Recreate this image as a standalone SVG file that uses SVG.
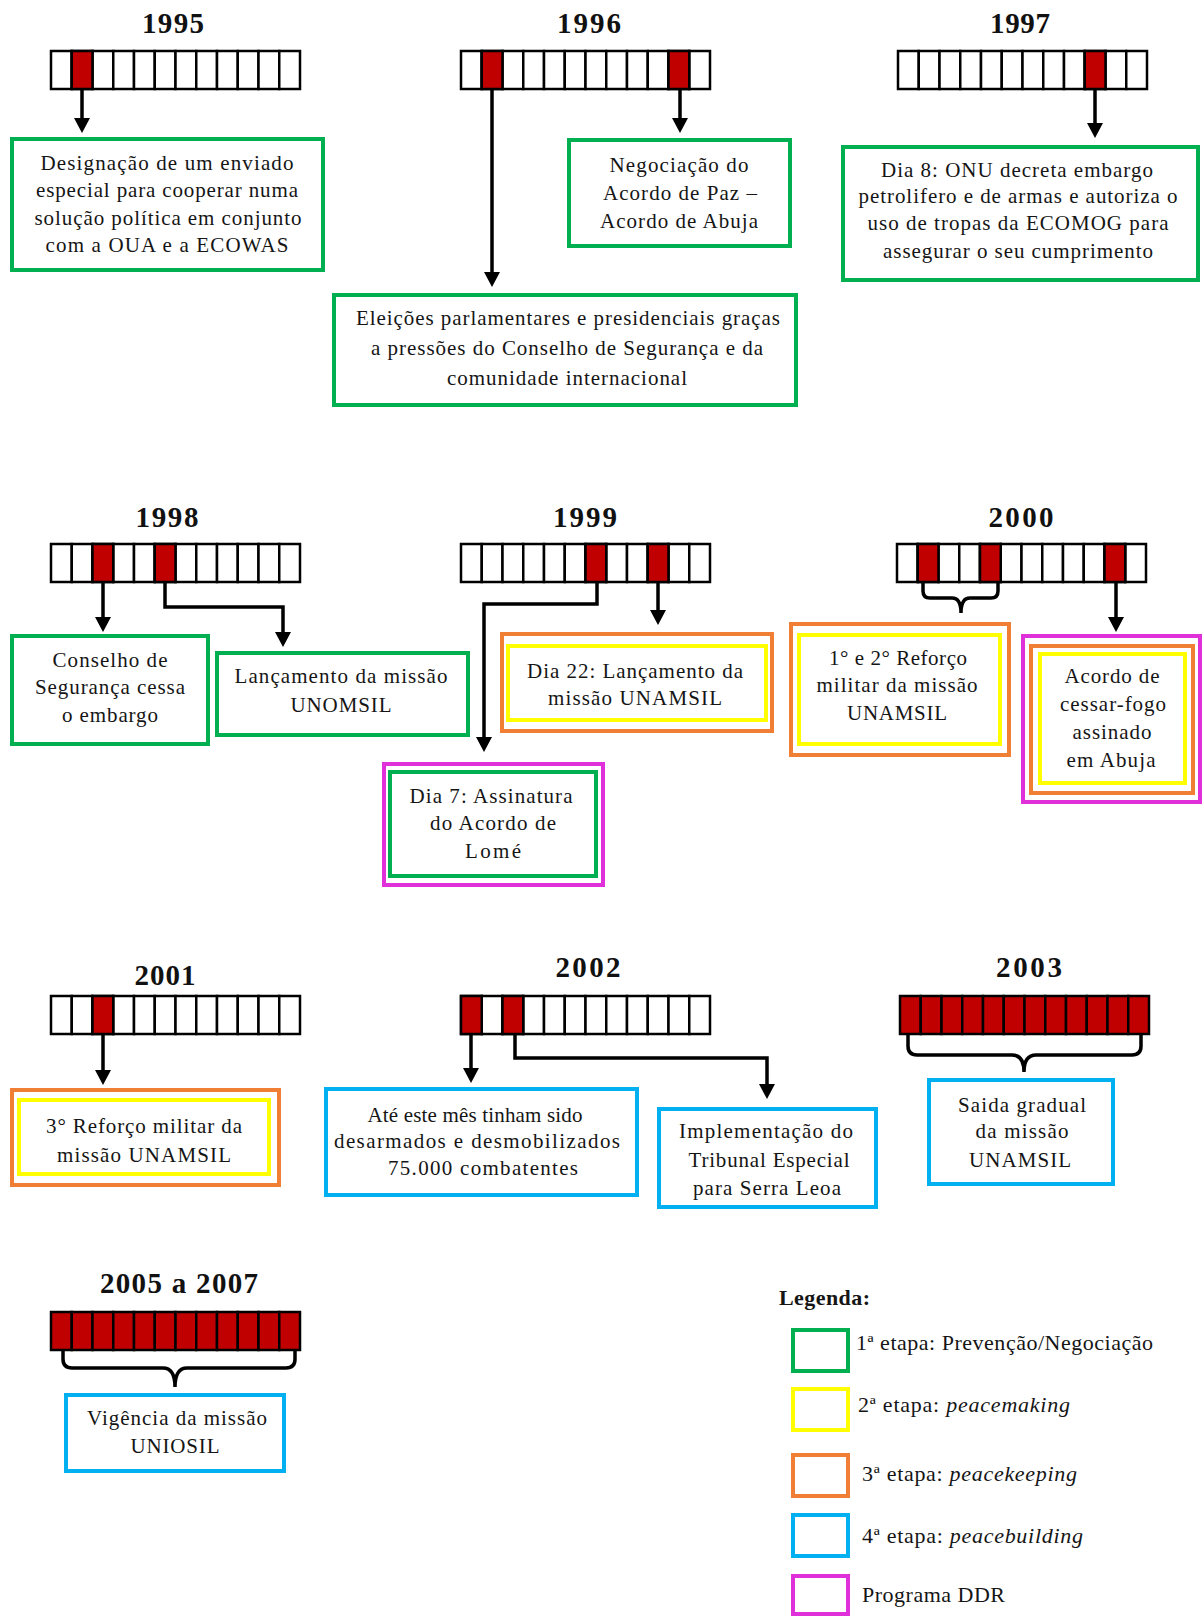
<svg xmlns="http://www.w3.org/2000/svg" xmlns:xlink="http://www.w3.org/1999/xlink" width="1204" height="1617" viewBox="0 0 1204 1617">
<style>
.bx{fill:#fff;stroke-width:4}
.g{stroke:#00B050}.y{stroke:#FFFF00}.o{stroke:#F07E34}.b{stroke:#00B0F0}.m{stroke:#E030DA}
.t{font-family:"Liberation Serif","Times New Roman",serif;font-size:21px;fill:#151515;text-anchor:middle}
.lg{font-family:"Liberation Serif","Times New Roman",serif;font-size:22px;fill:#151515}
.yr{font-family:"Liberation Serif","Times New Roman",serif;font-weight:bold;font-size:29px;fill:#111;text-anchor:middle}
.cell{stroke:#000;stroke-width:2.5}
.wb{fill:#fff}.rb{fill:#C00000}
.red{fill:#C00000;stroke:#000;stroke-width:2.5}
.conn{fill:none;stroke:#000;stroke-width:3.5;marker-end:url(#ah)}
.brace{fill:none;stroke:#000;stroke-width:3.5}
</style>
<defs>
<marker id="ah" viewBox="0 0 15 16" refX="5" refY="8" markerWidth="15" markerHeight="16" markerUnits="userSpaceOnUse" orient="auto">
<path d="M0,0 L15,8 L0,16 z" fill="#000"/>
</marker>
<g id="bar">
<rect class="cell" x="0" y="0" width="20.75" height="38"/>
<rect class="cell" x="20.75" y="0" width="20.75" height="38"/>
<rect class="cell" x="41.5" y="0" width="20.75" height="38"/>
<rect class="cell" x="62.25" y="0" width="20.75" height="38"/>
<rect class="cell" x="83" y="0" width="20.75" height="38"/>
<rect class="cell" x="103.75" y="0" width="20.75" height="38"/>
<rect class="cell" x="124.5" y="0" width="20.75" height="38"/>
<rect class="cell" x="145.25" y="0" width="20.75" height="38"/>
<rect class="cell" x="166" y="0" width="20.75" height="38"/>
<rect class="cell" x="186.75" y="0" width="20.75" height="38"/>
<rect class="cell" x="207.5" y="0" width="20.75" height="38"/>
<rect class="cell" x="228.25" y="0" width="20.75" height="38"/>
</g>
</defs>
<rect width="1204" height="1617" fill="#fff"/>

<g id="timelines">
<g id="y1995">
<text class="yr" x="173" y="33" textLength="62" lengthAdjust="spacing">1995</text>
<use href="#bar" class="wb" x="51" y="51"/>
<rect class="red" x="71.75" y="51" width="20.75" height="38"/>
</g>
<g id="y1996">
<text class="yr" x="589" y="33" textLength="64" lengthAdjust="spacing">1996</text>
<use href="#bar" class="wb" x="461" y="51"/>
<rect class="red" x="481.75" y="51" width="20.75" height="38"/>
<rect class="red" x="668.5" y="51" width="20.75" height="38"/>
</g>
<g id="y1997">
<text class="yr" x="1020" y="33" textLength="60" lengthAdjust="spacing">1997</text>
<use href="#bar" class="wb" x="898" y="51"/>
<rect class="red" x="1084.75" y="51" width="20.75" height="38"/>
</g>
<g id="y1998">
<text class="yr" x="167" y="527" textLength="63" lengthAdjust="spacing">1998</text>
<use href="#bar" class="wb" x="51" y="544"/>
<rect class="red" x="92.5" y="544" width="20.75" height="38"/>
<rect class="red" x="154.75" y="544" width="20.75" height="38"/>
</g>
<g id="y1999">
<text class="yr" x="585" y="527" textLength="64" lengthAdjust="spacing">1999</text>
<use href="#bar" class="wb" x="461" y="544"/>
<rect class="red" x="585.5" y="544" width="20.75" height="38"/>
<rect class="red" x="647.75" y="544" width="20.75" height="38"/>
</g>
<g id="y2000">
<text class="yr" x="1021" y="527" textLength="65" lengthAdjust="spacing">2000</text>
<use href="#bar" class="wb" x="897" y="544"/>
<rect class="red" x="917.75" y="544" width="20.75" height="38"/>
<rect class="red" x="980" y="544" width="20.75" height="38"/>
<rect class="red" x="1104.5" y="544" width="20.75" height="38"/>
</g>
<g id="y2001">
<text class="yr" x="165" y="985" textLength="61" lengthAdjust="spacing">2001</text>
<use href="#bar" class="wb" x="51" y="996"/>
<rect class="red" x="92.5" y="996" width="20.75" height="38"/>
</g>
<g id="y2002">
<text class="yr" x="588" y="977" textLength="65" lengthAdjust="spacing">2002</text>
<use href="#bar" class="wb" x="461" y="996"/>
<rect class="red" x="461" y="996" width="20.75" height="38"/>
<rect class="red" x="502.5" y="996" width="20.75" height="38"/>
</g>
<g id="y2003">
<text class="yr" x="1029" y="977" textLength="66" lengthAdjust="spacing">2003</text>
<use href="#bar" class="rb" x="900" y="996"/>
</g>
<g id="y2005">
<text class="yr" x="179" y="1293" textLength="158" lengthAdjust="spacing">2005 a 2007</text>
<use href="#bar" class="rb" x="51" y="1312"/>
</g>
</g>

<g id="connectors">
<path class="conn" d="M82,89 V123"/>
<path class="conn" d="M492,89 V277"/>
<path class="conn" d="M680,89 V123"/>
<path class="conn" d="M1095,89 V128"/>
<path class="conn" d="M103,582 V622"/>
<path class="conn" d="M165,582 V607 H283 V637"/>
<path class="conn" d="M597,582 V604 H484 V742"/>
<path class="conn" d="M658,582 V615"/>
<path class="brace" d="M923,583 V591 Q923,598 930,598 H952 Q961,598 961,613 Q961,598 970,598 H991 Q998,598 998,591 V583"/>
<path class="conn" d="M1116,582 V622"/>
<path class="conn" d="M103,1034 V1075"/>
<path class="conn" d="M471,1034 V1073"/>
<path class="conn" d="M515,1034 V1058 H767 V1089"/>
<path class="brace" d="M908,1035 V1046 Q908,1055 917,1055 H1012 Q1024,1055 1024,1072 Q1024,1055 1036,1055 H1132 Q1141,1055 1141,1046 V1035"/>
<path class="brace" d="M63,1351 V1359 Q63,1368 72,1368 H163 Q175,1368 175,1387 Q175,1368 187,1368 H286 Q295,1368 295,1359 V1351"/>
</g>

<g id="n1995">
<rect class="bx g" x="12" y="139" width="311" height="131"/>
<text class="t" x="167" y="170" textLength="253" lengthAdjust="spacing">Designação de um enviado</text>
<text class="t" x="167" y="197" textLength="262" lengthAdjust="spacing">especial para cooperar numa</text>
<text class="t" x="168" y="225" textLength="267" lengthAdjust="spacing">solução política em conjunto</text>
<text class="t" x="167" y="252" textLength="243" lengthAdjust="spacing">com a OUA e a ECOWAS</text>
</g>
<g id="n1996a">
<rect class="bx g" x="569" y="140" width="221" height="106"/>
<text class="t" x="679" y="172" textLength="139" lengthAdjust="spacing">Negociação do</text>
<text class="t" x="680" y="200" textLength="154" lengthAdjust="spacing">Acordo de Paz –</text>
<text class="t" x="679" y="228" textLength="158" lengthAdjust="spacing">Acordo de Abuja</text>
</g>
<g id="n1996b">
<rect class="bx g" x="334" y="295" width="462" height="110"/>
<text class="t" x="568" y="325" textLength="424" lengthAdjust="spacing">Eleições parlamentares e presidenciais graças</text>
<text class="t" x="567" y="355" textLength="392" lengthAdjust="spacing">a pressões do Conselho de Segurança e da</text>
<text class="t" x="567" y="385" textLength="240" lengthAdjust="spacing">comunidade internacional</text>
</g>
<g id="n1997">
<rect class="bx g" x="843" y="147" width="355" height="133"/>
<text class="t" x="1017" y="177" textLength="272" lengthAdjust="spacing">Dia 8: ONU decreta embargo</text>
<text class="t" x="1018" y="203" textLength="319" lengthAdjust="spacing">petrolifero e de armas e autoriza o</text>
<text class="t" x="1018" y="230" textLength="301" lengthAdjust="spacing">uso de tropas da ECOMOG para</text>
<text class="t" x="1018" y="258" textLength="270" lengthAdjust="spacing">assegurar o seu cumprimento</text>
</g>
<g id="n1998a">
<rect class="bx g" x="12" y="636" width="196" height="108"/>
<text class="t" x="110" y="667" textLength="115" lengthAdjust="spacing">Conselho de</text>
<text class="t" x="110" y="694" textLength="150" lengthAdjust="spacing">Segurança cessa</text>
<text class="t" x="110" y="722" textLength="96" lengthAdjust="spacing">o embargo</text>
</g>
<g id="n1998b">
<rect class="bx g" x="217" y="653" width="251" height="82"/>
<text class="t" x="341" y="683" textLength="213" lengthAdjust="spacing">Lançamento da missão</text>
<text class="t" x="341" y="712" textLength="101" lengthAdjust="spacing">UNOMSIL</text>
</g>
<g id="n1999a">
<rect class="bx o" x="502" y="634" width="270" height="97"/>
<rect class="bx y" x="508" y="646" width="258" height="74"/>
<text class="t" x="635" y="678" textLength="216" lengthAdjust="spacing">Dia 22: Lançamento da</text>
<text class="t" x="635" y="705" textLength="174" lengthAdjust="spacing">missão UNAMSIL</text>
</g>
<g id="n1999b">
<rect class="bx m" x="384" y="764" width="219" height="121"/>
<rect class="bx g" x="390" y="772" width="206" height="104"/>
<text class="t" x="491" y="803" textLength="163" lengthAdjust="spacing">Dia 7: Assinatura</text>
<text class="t" x="493" y="830" textLength="126" lengthAdjust="spacing">do Acordo de</text>
<text class="t" x="493" y="858" textLength="56" lengthAdjust="spacing">Lomé</text>
</g>
<g id="n2000a">
<rect class="bx o" x="791" y="624" width="218" height="131"/>
<rect class="bx y" x="799" y="635" width="201" height="109"/>
<text class="t" x="898" y="665" textLength="138" lengthAdjust="spacing">1° e 2° Reforço</text>
<text class="t" x="897" y="692" textLength="161" lengthAdjust="spacing">militar da missão</text>
<text class="t" x="897" y="720" textLength="100" lengthAdjust="spacing">UNAMSIL</text>
</g>
<g id="n2000b">
<rect class="bx m" x="1023" y="636" width="177" height="166"/>
<rect class="bx o" x="1031" y="646" width="162" height="147"/>
<rect class="bx y" x="1040" y="654" width="145" height="129"/>
<text class="t" x="1112" y="683" textLength="95" lengthAdjust="spacing">Acordo de</text>
<text class="t" x="1113" y="711" textLength="106" lengthAdjust="spacing">cessar-fogo</text>
<text class="t" x="1112" y="739" textLength="79" lengthAdjust="spacing">assinado</text>
<text class="t" x="1111" y="767" textLength="89" lengthAdjust="spacing">em Abuja</text>
</g>
<g id="n2001">
<rect class="bx o" x="12" y="1090" width="267" height="95"/>
<rect class="bx y" x="19" y="1100" width="250" height="74"/>
<text class="t" x="144" y="1133" textLength="196" lengthAdjust="spacing">3° Reforço militar da</text>
<text class="t" x="144" y="1162" textLength="174" lengthAdjust="spacing">missão UNAMSIL</text>
</g>
<g id="n2002a">
<rect class="bx b" x="326" y="1089" width="311" height="106"/>
<text class="t" x="475" y="1122" textLength="215" lengthAdjust="spacing">Até este mês tinham sido</text>
<text class="t" x="477" y="1148" textLength="286" lengthAdjust="spacing">desarmados e desmobilizados</text>
<text class="t" x="483" y="1175" textLength="190" lengthAdjust="spacing">75.000 combatentes</text>
</g>
<g id="n2002b">
<rect class="bx b" x="659" y="1109" width="217" height="98"/>
<text class="t" x="766" y="1138" textLength="174" lengthAdjust="spacing">Implementação do</text>
<text class="t" x="769" y="1167" textLength="161" lengthAdjust="spacing">Tribunal Especial</text>
<text class="t" x="767" y="1195" textLength="148" lengthAdjust="spacing">para Serra Leoa</text>
</g>
<g id="n2003">
<rect class="bx b" x="929" y="1080" width="184" height="104"/>
<text class="t" x="1022" y="1112" textLength="128" lengthAdjust="spacing">Saida gradual</text>
<text class="t" x="1022" y="1138" textLength="93" lengthAdjust="spacing">da missão</text>
<text class="t" x="1020" y="1167" textLength="102" lengthAdjust="spacing">UNAMSIL</text>
</g>
<g id="n2005">
<rect class="bx b" x="66" y="1395" width="218" height="76"/>
<text class="t" x="177" y="1425" textLength="180" lengthAdjust="spacing">Vigência da missão</text>
<text class="t" x="175" y="1453" textLength="89" lengthAdjust="spacing">UNIOSIL</text>
</g>

<g id="legend">
<text class="lg" x="779" y="1305" font-weight="bold" font-size="22" textLength="91" lengthAdjust="spacing">Legenda:</text>
<rect class="bx g" x="793" y="1330" width="55" height="41"/>
<rect class="bx y" x="793" y="1389" width="55" height="41"/>
<rect class="bx o" x="793" y="1455" width="55" height="41"/>
<rect class="bx b" x="793" y="1515" width="55" height="41"/>
<rect class="bx m" x="793" y="1576" width="55" height="38"/>
<text class="lg" x="856" y="1350" textLength="297" lengthAdjust="spacing">1ª etapa: Prevenção/Negociação</text>
<text class="lg" x="858" y="1412" textLength="212" lengthAdjust="spacing">2ª etapa: <tspan font-style="italic">peacemaking</tspan></text>
<text class="lg" x="862" y="1481" textLength="215" lengthAdjust="spacing">3ª etapa: <tspan font-style="italic">peacekeeping</tspan></text>
<text class="lg" x="862" y="1543" textLength="221" lengthAdjust="spacing">4ª etapa: <tspan font-style="italic">peacebuilding</tspan></text>
<text class="lg" x="862" y="1602" textLength="143" lengthAdjust="spacing">Programa DDR</text>
</g>
</svg>
